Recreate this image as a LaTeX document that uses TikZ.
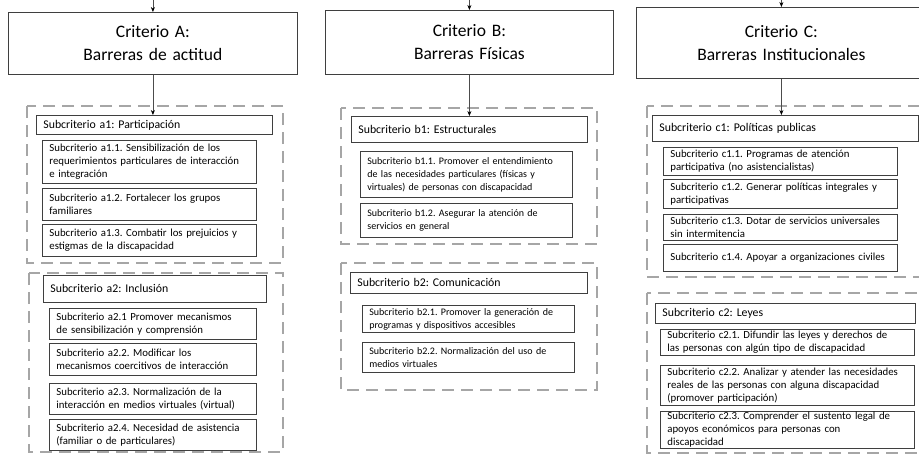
\documentclass[tikz,border=0pt]{standalone}
\usepackage{fontspec}
\setmainfont{Carlito}
\usepackage{tikz}
\usetikzlibrary{arrows.meta}
\definecolor{gris}{HTML}{A6A6A6}
\definecolor{linea}{HTML}{3F3F3F}
\frenchspacing

\begin{document}
\begin{tikzpicture}[x=1pt,y=-1pt,
        criterio/.style={draw=linea,line width=0.8pt,anchor=north west,align=center,
            inner xsep=7pt,inner ysep=0pt,font=\fontsize{17.5}{23}\selectfont},
        subcab/.style={draw=linea,line width=0.8pt,anchor=north west,align=left,
            inner xsep=7pt,inner ysep=0pt,font=\fontsize{11.8}{13}\selectfont},
        subdet/.style={draw=linea,line width=0.8pt,anchor=north west,align=left,
            inner xsep=7pt,inner ysep=0pt,font=\fontsize{10.8}{13}\selectfont},
        subdetb/.style={subdet,font=\fontsize{10}{13}\selectfont},
        marco/.style={draw=gris,line width=2.4pt,dash pattern=on 12pt off 7pt},
        flecha/.style={draw=black!70,line width=0.6pt,-{Stealth[length=5pt,width=4pt,black]}}]
        \clip (0,0) rectangle (919,455);
        % marcos punteados
        \draw[marco] (27,106) rectangle (283,263);
        \draw[marco] (29,273) rectangle (283,452);
        \draw[marco] (341,108) rectangle (597,244);
        \draw[marco] (341,263) rectangle (597,390);
        \draw[marco] (647,106) rectangle (945,277);
        \draw[marco] (647,293) rectangle (945,453);
        % criterios
        \node[criterio,text width=275,minimum height=62] (critA) at (8,12) {Criterio A:\\Barreras de actitud};
        \node[criterio,text width=274,minimum height=64] (critB) at (325,10) {Criterio B:\\Barreras Físicas};
        \node[criterio,text width=276,minimum height=71] (critC) at (636,7) {Criterio C:\\Barreras Institucionales};
        % columna A
        \node[subcab,text width=222,minimum height=19] (a1) at (36,115) {Subcriterio a1: Participación};
        \node[subdet,text width=200,minimum height=43] (a11) at (42,140) {Subcriterio a1.1. Sensibilización de los\\requerimientos particulares de interacción\\e integración};
        \node[subdet,text width=200,minimum height=32] (a12) at (42,188) {Subcriterio a1.2. Fortalecer los grupos\\familiares};
        \node[subdet,text width=200,minimum height=32] (a13) at (42,224) {Subcriterio a1.3. Combatir los prejuicios y\\estigmas de la discapacidad};
        \node[subcab,text width=209,minimum height=27] (a2) at (43,275) {Subcriterio a2: Inclusión};
        \node[subdet,text width=193,minimum height=31] (a21) at (49,308) {Subcriterio a2.1 Promover mecanismos\\de sensibilización y comprensión};
        \node[subdet,text width=193,minimum height=32] (a22) at (49,343) {Subcriterio a2.2. Modificar los\\mecanismos coercitivos de interacción};
        \node[subdet,text width=193,minimum height=31] (a23) at (49,383) {Subcriterio a2.3. Normalización de la\\interacción en medios virtuales (virtual)};
        \node[subdet,text width=193,minimum height=31] (a24) at (49,419) {Subcriterio a2.4. Necesidad de asistencia\\(familiar o de particulares)};
        % columna B
        \node[subcab,text width=222,minimum height=26] (b1) at (351,116) {Subcriterio b1: Estructurales};
        \node[subdetb,text width=198,minimum height=46] (b11) at (360,151) {Subcriterio b1.1. Promover el entendimiento\\de las necesidades particulares (físicas y\\virtuales) de personas con discapacidad};
        \node[subdetb,text width=198,minimum height=34] (b12) at (360,203) {Subcriterio b1.2. Asegurar la atención de\\servicios en general};
        \node[subcab,text width=223,minimum height=21] (b2) at (350,272) {Subcriterio b2: Comunicación};
        \node[subdetb,text width=198,minimum height=27] (b21) at (362,305) {Subcriterio b2.1. Promover la generación de\\programas y dispositivos accesibles};
        \node[subdetb,text width=198,minimum height=30] (b22) at (362,342) {Subcriterio b2.2. Normalización del uso de\\medios virtuales};
        % columna C
        \node[subcab,text width=252,minimum height=26] (c1) at (652,115) {Subcriterio c1: Políticas publicas};
        \node[subdet,text width=220,minimum height=28] (c11) at (663,147) {Subcriterio c1.1. Programas de atención\\participativa (no asistencialistas)};
        \node[subdet,text width=220,minimum height=29] (c12) at (663,179) {Subcriterio c1.2. Generar políticas integrales y\\participativas};
        \node[subdet,text width=220,minimum height=26] (c13) at (663,214) {Subcriterio c1.3. Dotar de servicios universales\\sin intermitencia};
        \node[subdet,text width=220,minimum height=27] (c14) at (663,244) {Subcriterio c1.4. Apoyar a organizaciones civiles};
        \node[subcab,text width=246,minimum height=20] (c2) at (655,303) {Subcriterio c2: Leyes};
        \node[subdet,text width=240,minimum height=26] (c21) at (660,329) {Subcriterio c2.1. Difundir las leyes y derechos de\\las personas con algún tipo de discapacidad};
        \node[subdet,text width=240,minimum height=40] (c22) at (660,365) {Subcriterio c2.2. Analizar y atender las necesidades\\reales de las personas con alguna discapacidad\\(promover participación)};
        \node[subdet,text width=240,minimum height=37] (c23) at (660,411) {Subcriterio c2.3. Comprender el sustento legal de\\apoyos económicos para personas con\\discapacidad};
        % flechas
        \coordinate (inA) at (critA.north |- 0,0);
        \coordinate (inB) at (critB.north |- 0,0);
        \coordinate (inC) at (critC.north |- 0,0);
        \draw[flecha] (inA) -- (critA.north);
        \draw[flecha] (inB) -- (critB.north);
        \draw[flecha] (inC) -- (critC.north);
        \draw[flecha] (critA.south) -- (critA.south |- a1.north);
        \draw[flecha] (critB.south) -- (critB.south |- b1.north);
        \draw[flecha] (critC.south) -- (critC.south |- c1.north);
\end{tikzpicture}
\end{document}
